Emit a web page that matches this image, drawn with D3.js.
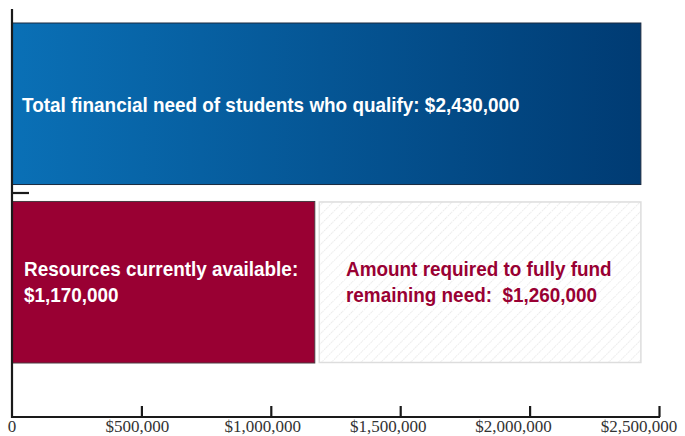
<!DOCTYPE html>
<html>
<head>
<meta charset="utf-8">
<script src="https://cdn.jsdelivr.net/npm/d3@7"></script>
<style>
  html, body { margin: 0; padding: 0; background: #fff; }
  svg { display: block; }
</style>
</head>
<body>
<div id="chart"></div>
<script>
const W = 685, H = 436

// data
const rows = ["need", "funding"]
const totalNeed = 2430000
const available = 1170000
const remaining = 1260000
const tickValues = [0, 500000, 1000000, 1500000, 2000000, 2500000]
const tickLabels = ["0", "$500,000", "$1,000,000", "$1,500,000", "$2,000,000", "$2,500,000"]
const needLabel = ["Total financial need of students who qualify: $2,430,000"]
const availableLabel = ["Resources currently available:", "$1,170,000"]
const remainingLabel = ["Amount required to fully fund", "remaining need:  $1,260,000"]

const BLUE_L = "#0a70b6", BLUE_R = "#003b73", RED = "#990033"
const SANS = "'Liberation Sans Narrow', 'Arial Narrow', 'Liberation Sans', sans-serif"
const SERIF = "'Liberation Serif', 'Times New Roman', serif"
const CONDENSE = 0.9 // no narrow font installed, squeeze the glyphs instead

const svg = d3.select("#chart").append("svg")
  .attr("width", W).attr("height", H)

const defs = svg.append("defs")
const grad = defs.append("linearGradient").attr("id", "blueGrad")
  .attr("x1", "0%").attr("x2", "100%").attr("y1", "0%").attr("y2", "0%")
grad.append("stop").attr("offset", "0%").attr("stop-color", BLUE_L)
grad.append("stop").attr("offset", "100%").attr("stop-color", BLUE_R)

const hatch = defs.append("pattern").attr("id", "hatch")
  .attr("patternUnits", "userSpaceOnUse")
  .attr("width", 7).attr("height", 7)
  .attr("patternTransform", "rotate(45)")
hatch.append("line")
  .attr("x1", 0).attr("y1", 0).attr("x2", 0).attr("y2", 7)
  .attr("stroke", "#dcdcdc").attr("stroke-width", 1.2)
  .attr("stroke-dasharray", "1.5,1")

const x = d3.scaleLinear().domain([0, 2500000]).range([12, 659])
const xLabel = d3.scaleLinear().domain([0, 2500000]).range([12, 639])
const y = d3.scaleBand().domain(rows).range([23, 363]).paddingInner(0.095)
const bw = y.bandwidth()

// need bar
svg.append("rect")
  .attr("x", x(0)).attr("y", y("need"))
  .attr("width", x(totalNeed) - x(0)).attr("height", bw)
  .attr("fill", "url(#blueGrad)")
  .attr("stroke", "#1a2a40").attr("stroke-width", 1)

// available bar
svg.append("rect")
  .attr("x", x(0)).attr("y", y("funding"))
  .attr("width", x(available) - x(0)).attr("height", bw)
  .attr("fill", RED)
  .attr("stroke", "#4a3a40").attr("stroke-width", 1)

// remaining (hatched)
svg.append("rect")
  .attr("x", x(available) + 4.5).attr("y", y("funding") + 0.5)
  .attr("width", x(available + remaining) - x(available) - 4.5).attr("height", bw - 1)
  .attr("fill", "url(#hatch)")
  .attr("stroke", "#dddddd").attr("stroke-width", 1.5)

function condense(sel) {
  sel.each(function() {
    const len = this.getComputedTextLength()
    d3.select(this).attr("textLength", len * CONDENSE).attr("lengthAdjust", "spacingAndGlyphs")
  })
}

// labels
svg.append("text")
  .attr("x", 22).attr("y", y("need") + bw / 2 + 8)
  .attr("fill", "#fff").attr("font-family", SANS).attr("font-weight", "bold")
  .attr("font-size", 21)
  .text(needLabel[0])
  .call(condense)

svg.selectAll(".avail").data(availableLabel).join("text")
  .attr("x", 24).attr("y", (d, i) => y("funding") + bw / 2 - 6 + i * 26)
  .attr("fill", "#fff").attr("font-family", SANS).attr("font-weight", "bold")
  .attr("font-size", 21)
  .text(d => d)
  .call(condense)

svg.selectAll(".remain").data(remainingLabel).join("text")
  .attr("x", 346).attr("y", (d, i) => y("funding") + bw / 2 - 6 + i * 26)
  .attr("fill", RED).attr("font-family", SANS).attr("font-weight", "bold")
  .attr("font-size", 21)
  .style("white-space", "pre")
  .text(d => d)
  .call(condense)

// x axis
const xAxis = svg.append("g")
  .attr("transform", "translate(0,417)")
  .call(d3.axisBottom(x).tickValues(tickValues).tickSizeInner(-11).tickSizeOuter(0).tickFormat(""))
xAxis.select(".domain").attr("stroke", "#1a1a1a").attr("stroke-width", 2.2)
  .attr("d", `M${x(0) - 1},0H${x(2500000) + 1}`)
xAxis.selectAll(".tick line").attr("stroke", "#1a1a1a").attr("stroke-width", 2.2)
xAxis.selectAll(".tick").filter(d => d === 0).remove()

svg.selectAll(".xlab").data(tickValues).join("text")
  .attr("x", d => xLabel(d)).attr("y", 432)
  .attr("text-anchor", "middle")
  .attr("font-family", SERIF).attr("font-size", 17)
  .attr("fill", "#333")
  .text((d, i) => tickLabels[i])

// y axis
const yEdge = y("need") + bw + (y.step() - bw) / 2
svg.append("line")
  .attr("x1", x(0)).attr("x2", x(0)).attr("y1", 9).attr("y2", 418)
  .attr("stroke", "#1a1a1a").attr("stroke-width", 2.2)
svg.append("line")
  .attr("x1", x(0)).attr("x2", x(0) + 17).attr("y1", yEdge).attr("y2", yEdge)
  .attr("stroke", "#1a1a1a").attr("stroke-width", 2.2)
</script>
</body>
</html>
